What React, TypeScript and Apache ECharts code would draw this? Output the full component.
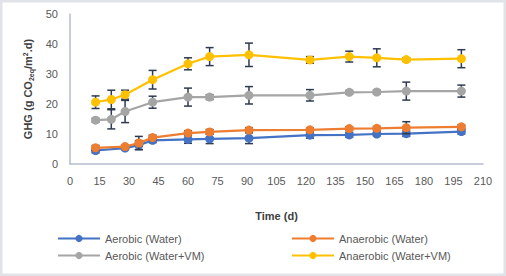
import React, { useEffect, useRef } from "react";
import * as echarts from "echarts";

const xTicks = { min: 0, max: 210, interval: 15 };
const yTicks = { min: 0, max: 50, interval: 10 };

const daysWater = [13, 28, 35, 42, 60, 71, 91, 122, 142, 156, 171, 199];
const daysVM = [13, 21, 28, 42, 60, 71, 91, 122, 142, 156, 171, 199];

const aerobicWater = [4.5, 5.3, 6.3, 7.9, 8.2, 8.4, 8.6, 9.6, 9.7, 10.0, 10.1, 10.8];
const aerobicWaterErr = [0.8, 0.5, 1.5, 0.8, 1.3, 1.6, 1.8, 1.0, 0.8, 0.6, 0.9, 0.8];
const anaerobicWater = [5.4, 5.8, 7.0, 8.8, 10.3, 10.7, 11.3, 11.4, 11.8, 11.9, 12.1, 12.4];
const anaerobicWaterErr = [0.8, 0.5, 2.2, 0.8, 0.8, 0.8, 0.8, 0.6, 0.6, 0.6, 2.0, 0.6];
const aerobicVM = [14.6, 14.9, 17.5, 20.6, 22.3, 22.3, 22.9, 22.9, 23.9, 24.0, 24.3, 24.3];
const aerobicVMErr = [0.6, 3.2, 3.7, 2.0, 3.0, 0.8, 2.9, 1.9, 0.6, 0.6, 3.0, 2.0];
const anaerobicVM = [20.6, 21.5, 23.1, 28.1, 33.4, 35.8, 36.4, 34.7, 35.8, 35.4, 34.8, 35.1];
const anaerobicVMErr = [2.1, 3.1, 1.5, 3.1, 2.0, 3.0, 3.9, 1.1, 1.8, 3.0, 0.6, 3.0];

const seriesDefs = [
  { name: "Aerobic (Water)", days: daysWater, values: aerobicWater, errs: aerobicWaterErr, color: "#4472C4" },
  { name: "Anaerobic (Water)", days: daysWater, values: anaerobicWater, errs: anaerobicWaterErr, color: "#ED7D31" },
  { name: "Aerobic (Water+VM)", days: daysVM, values: aerobicVM, errs: aerobicVMErr, color: "#A5A5A5" },
  { name: "Anaerobic (Water+VM)", days: daysVM, values: anaerobicVM, errs: anaerobicVMErr, color: "#FFC000" },
];

const FONT = "'Liberation Sans', Arial, sans-serif";

export default function App() {
  const ref = useRef<HTMLDivElement>(null);
  useEffect(() => {
    if (!ref.current) return;
    const chart = echarts.init(ref.current, undefined, { renderer: "svg" });
    const series: any[] = [];
    seriesDefs.forEach((s, i) => {
      series.push({
        name: s.name + " err",
        type: "custom",
        z: 2 + i * 2,
        silent: true,
        data: s.days.map((d, k) => [d, s.values[k], s.errs[k]]),
        encode: { x: 0, y: 1 },
        renderItem: (params: any, api: any) => {
          const x = api.value(0);
          const y = api.value(1);
          const e = api.value(2);
          const top = api.coord([x, y + e]);
          const bot = api.coord([x, y - e]);
          const hw = 4;
          const style = { stroke: "#2E3A4F", lineWidth: 1.5, fill: "none" };
          return {
            type: "group",
            children: [
              { type: "line", shape: { x1: top[0], y1: top[1], x2: bot[0], y2: bot[1] }, style },
              { type: "line", shape: { x1: top[0] - hw, y1: top[1], x2: top[0] + hw, y2: top[1] }, style },
              { type: "line", shape: { x1: bot[0] - hw, y1: bot[1], x2: bot[0] + hw, y2: bot[1] }, style },
            ],
          };
        },
      });
      series.push({
        name: s.name,
        type: "line",
        z: 3 + i * 2,
        data: s.days.map((d, k) => [d, s.values[k]]),
        symbol: "circle",
        symbolSize: 9,
        showSymbol: true,
        color: s.color,
        itemStyle: { color: s.color },
        lineStyle: { color: s.color, width: 2.25 },
      });
    });

    const legendCommon = {
      orient: "vertical",
      padding: 0,
      itemWidth: 42,
      itemHeight: 9,
      itemGap: 6,
      textStyle: { fontFamily: FONT, fontSize: 11, color: "#595959" },
    };

    chart.setOption({
      animation: false,
      backgroundColor: "#ffffff",
      textStyle: { fontFamily: FONT },
      graphic: [
        {
          type: "rect",
          shape: { x: 0, y: 0, width: 506, height: 276 },
          style: { fill: "none", stroke: "#E0E4E9", lineWidth: 5 },
          silent: true,
        },
      ],
      grid: { left: 70, right: 23, top: 14, bottom: 112 },
      xAxis: {
        type: "value",
        min: xTicks.min,
        max: xTicks.max,
        interval: xTicks.interval,
        name: "Time (d)",
        nameLocation: "middle",
        nameGap: 46,
        nameTextStyle: { fontFamily: FONT, fontSize: 11, fontWeight: "bold", color: "#404040" },
        axisLine: { show: true, lineStyle: { color: "#B4BCCB", width: 1.5 } },
        axisTick: { show: false },
        splitLine: { show: false },
        axisLabel: { fontFamily: FONT, fontSize: 11, color: "#595959", margin: 11 },
      },
      yAxis: {
        type: "value",
        min: yTicks.min,
        max: yTicks.max,
        interval: yTicks.interval,
        name: "GHG (g CO{sub|2eq}/m{sup|2}.d)",
        nameLocation: "middle",
        nameGap: 33,
        nameTextStyle: {
          fontFamily: FONT,
          fontSize: 11,
          fontWeight: "bold",
          color: "#404040",
          rich: {
            sub: { fontFamily: FONT, fontSize: 7, fontWeight: "bold", color: "#404040", padding: [6, 0, 0, 0] },
            sup: { fontFamily: FONT, fontSize: 7, fontWeight: "bold", color: "#404040", padding: [0, 0, 6, 0] },
          },
        },
        axisLine: { show: true, lineStyle: { color: "#B4BCCB", width: 1.5 } },
        axisTick: { show: false },
        splitLine: { show: false },
        axisLabel: { fontFamily: FONT, fontSize: 11, color: "#595959", margin: 12 },
      },
      legend: [
        { ...legendCommon, left: 57, top: 233, data: [seriesDefs[0].name, seriesDefs[2].name] },
        { ...legendCommon, left: 291, top: 233, data: [seriesDefs[1].name, seriesDefs[3].name] },
      ],
      series,
    });
    return () => chart.dispose();
  }, []);
  return (
    <div style={{ position: "fixed", left: 0, top: 0, width: 506, height: 276 }}>
      <div ref={ref} style={{ width: 506, height: 276 }} />
    </div>
  );
}
